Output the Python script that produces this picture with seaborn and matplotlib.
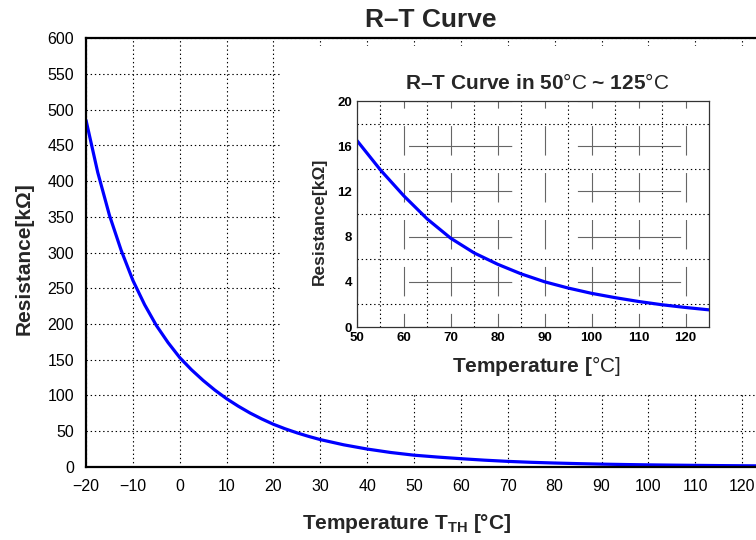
import numpy as np
import pandas as pd
import matplotlib
matplotlib.use("Agg")
import matplotlib.pyplot as plt
from matplotlib.patches import Rectangle
from matplotlib.ticker import FixedLocator
import seaborn as sns

# ---------------- data ----------------
temperature = [-20, -17.5, -15, -12.5, -10, -7.5, -5, -2.5, 0, 2.5, 5, 7.5, 10, 12.5, 15,
               17.5, 20, 22.5, 25, 27.5, 30, 35, 40, 45, 50, 55, 60, 65, 70, 75,
               80, 85, 90, 95, 100, 105, 110, 115, 120, 125]
resistance = [485, 412, 352, 303, 261, 227, 198, 174, 153, 136, 121, 107.5, 95.5, 85, 75.5,
              67.2, 59.7, 53.4, 47.8, 42.8, 38.3, 31.0, 25.1, 20.3, 16.5, 13.9, 11.6, 9.55, 7.85, 6.55,
              5.55, 4.7, 4.0, 3.45, 2.98, 2.6, 2.26, 1.97, 1.73, 1.52]

main_xticks = [-20, -10, 0, 10, 20, 30, 40, 50, 60, 70, 80, 90, 100, 110, 120]
main_yticks = [0, 50, 100, 150, 200, 250, 300, 350, 400, 450, 500, 550, 600]
inset_xticks = [50, 60, 70, 80, 90, 100, 110, 120]
inset_xminor = [55, 65, 75, 85, 95, 105, 115]
inset_yticks = [0, 4, 8, 12, 16, 20]
inset_yminor = [2, 6, 10, 14, 18]

main_title = "R–T Curve"
main_xlabel = r"Temperature $\mathbf{T_{TH}}$ [°C]"
main_ylabel = "Resistance[kΩ]"
inset_title = r"R–T Curve in 50$\mathrm{°C}$ ~ 125$\mathrm{°C}$"
inset_xlabel = r"Temperature [$\mathrm{°C]}$"
inset_ylabel = "Resistance[kΩ]"

# ---------------- style ----------------
sns.set_theme(style="white")
plt.rcParams["font.family"] = ["Liberation Sans", "DejaVu Sans"]
plt.rcParams["mathtext.fontset"] = "custom"
plt.rcParams["mathtext.rm"] = "Liberation Sans"
plt.rcParams["mathtext.bf"] = "Liberation Sans:bold"
plt.rcParams["mathtext.it"] = "Liberation Sans:italic"
plt.rcParams["lines.scale_dashes"] = False

df = pd.DataFrame({"T": temperature, "R": resistance})

fig = plt.figure(figsize=(7.56, 5.4), dpi=100)
fig.patch.set_facecolor("white")

# ---------------- main axes ----------------
ax = fig.add_axes([0.1138, 0.1352, 0.8988, 0.7944])
sns.lineplot(data=df, x="T", y="R", ax=ax, color="#0000ff", lw=2.3,
             estimator=None, sort=True)

# white background region behind the inset (covers the main grid)
ax.add_patch(Rectangle((0.3717, 0.2704), 0.7, 0.6444, transform=fig.transFigure,
                       facecolor="white", edgecolor="none", zorder=1.5, clip_on=False))

ax.set_xlim(-20, 125)
ax.set_ylim(0, 600)
ax.set_xticks(main_xticks)
ax.set_yticks(main_yticks)
ax.tick_params(length=0, labelsize=11.5, pad=8.5, colors="black")
ax.set_axisbelow(True)
ax.grid(True, color="black", linestyle=(0, (1, 2)), lw=0.8)
for s in ["left", "bottom", "top"]:
    ax.spines[s].set_color("black")
    ax.spines[s].set_linewidth(1.6)
ax.spines["right"].set_visible(False)

ax.set_title(main_title, fontsize=19, fontweight="bold", pad=8, x=0.508)
ax.set_xlabel(main_xlabel, fontsize=15, fontweight="bold")
ax.set_ylabel(main_ylabel, fontsize=15, fontweight="bold")
ax.xaxis.set_label_coords(0.472, -0.105)
ax.yaxis.set_label_coords(-0.0765, 0.485)

# ---------------- inset axes ----------------
axin = fig.add_axes([0.4722, 0.3944, 0.4656, 0.4185])
axin.set_facecolor("white")
sns.lineplot(data=df[df["T"] >= 50], x="T", y="R", ax=axin, color="#0000ff", lw=2.3,
             estimator=None, sort=True)
axin.set_xlim(50, 125)
axin.set_ylim(0, 20)
axin.set_xticks(inset_xticks)
axin.set_yticks(inset_yticks)
axin.xaxis.set_minor_locator(FixedLocator(inset_xminor))
axin.yaxis.set_minor_locator(FixedLocator(inset_yminor))
axin.tick_params(which="both", length=0, labelsize=9.5, pad=3.5, colors="black")
for lbl in axin.get_xticklabels() + axin.get_yticklabels():
    lbl.set_fontweight("bold")
axin.set_axisbelow(True)
axin.grid(which="minor", axis="both", color="black", linestyle=(0, (1, 2)), lw=0.8)
axin.grid(which="major", axis="x", color="0.4", linestyle=(11.4, (21.2, 12.6)), lw=0.8)
axin.grid(which="major", axis="y", color="0.4", linestyle=(84.5, (74.3, 47.3)), lw=0.8)
for s in axin.spines.values():
    s.set_color("0.2")
    s.set_linewidth(0.9)

axin.set_title(inset_title, fontsize=15, fontweight="bold", pad=8.6, x=0.512)
axin.set_xlabel(inset_xlabel, fontsize=15, fontweight="bold")
axin.set_ylabel(inset_ylabel, fontsize=12.5, fontweight="bold")
axin.xaxis.set_label_coords(0.511, -0.12)
axin.yaxis.set_label_coords(-0.085, 0.469)

fig.savefig("out.png", dpi=100, facecolor="white")
